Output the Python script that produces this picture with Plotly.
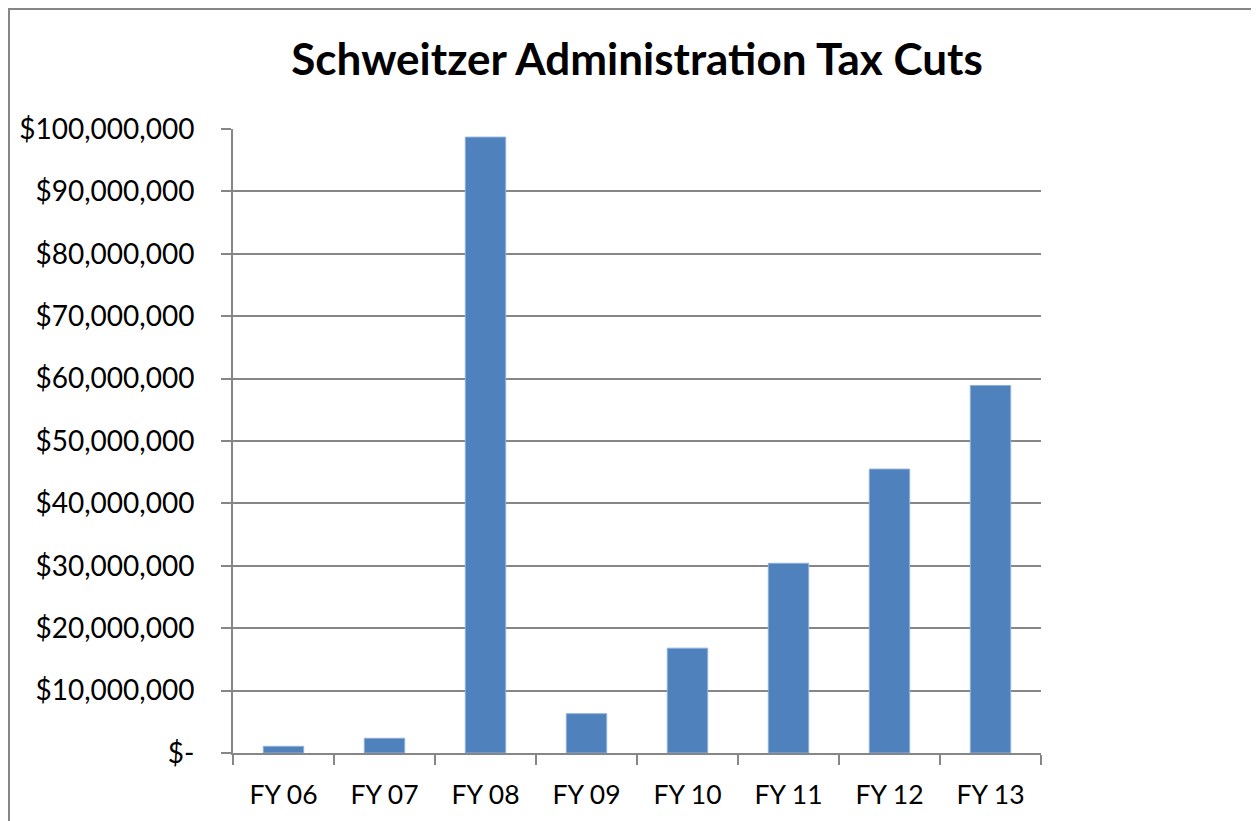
import plotly.graph_objects as go

categories = ["FY 06", "FY 07", "FY 08", "FY 09", "FY 10", "FY 11", "FY 12", "FY 13"]
tax_cuts = [1_070_000, 2_360_000, 98_700_000, 6_300_000, 16_800_000, 30_400_000, 45_500_000, 58_900_000]
y_ticks = [0, 10_000_000, 20_000_000, 30_000_000, 40_000_000, 50_000_000,
           60_000_000, 70_000_000, 80_000_000, 90_000_000, 100_000_000]
y_tick_labels = ["$-", "$10,000,000", "$20,000,000", "$30,000,000", "$40,000,000",
                 "$50,000,000", "$60,000,000", "$70,000,000", "$80,000,000",
                 "$90,000,000", "$100,000,000"]
title_text = "Schweitzer Administration Tax Cuts"

# page has an 8px body margin, so the figure is sized to fit the window
W, H = 1251, 813
L, T = 225, 121
PW, PH = 808, 624
R, B = L + PW, T + PH

fig = go.Figure(go.Bar(
    x=categories, y=tax_cuts,
    marker=dict(color="#4F81BD", line=dict(color="#8EB0DA", width=1)),
))

axis_gray = "#868686"
font_family = "Lato, 'Open Sans', sans-serif"

fig.update_layout(
    width=W, height=H,
    margin=dict(l=L, r=W - R, t=T, b=H - B, pad=0, autoexpand=False),
    paper_bgcolor="white", plot_bgcolor="white",
    bargap=0.6,
    showlegend=False,
    font=dict(family=font_family, size=26, color="#000000"),
    title=dict(text="<b>" + title_text + "</b>", x=0.5, xref="paper", xanchor="center",
               y=1 - 52 / H, yref="container", yanchor="middle",
               font=dict(family=font_family, size=44, color="#000000")),
)

fig.update_xaxes(
    type="category", tickson="boundaries", ticks="outside", ticklen=10,
    tickcolor=axis_gray, tickwidth=2, showline=True, linecolor=axis_gray, linewidth=2,
    showgrid=False, ticklabelstandoff=17, tickfont=dict(size=26.5), automargin=False,
)
fig.update_yaxes(
    range=[0, 100_000_000], tickvals=y_ticks, ticktext=y_tick_labels,
    ticks="outside", ticklen=10, tickcolor=axis_gray, tickwidth=2,
    showline=True, linecolor=axis_gray, linewidth=2,
    showgrid=True, gridcolor=axis_gray, gridwidth=1.5,
    zeroline=False, ticklabelstandoff=21, tickfont=dict(size=28), automargin=False,
)

# outer chart border
fig.add_shape(type="rect", xref="paper", yref="paper",
              x0=(1 - L) / PW, x1=(1246 - L) / PW,
              y0=(B - 840) / PH, y1=(B - 1) / PH,
              line=dict(color=axis_gray, width=2), fillcolor="rgba(0,0,0,0)", layer="below")

fig.write_html("out.html")
